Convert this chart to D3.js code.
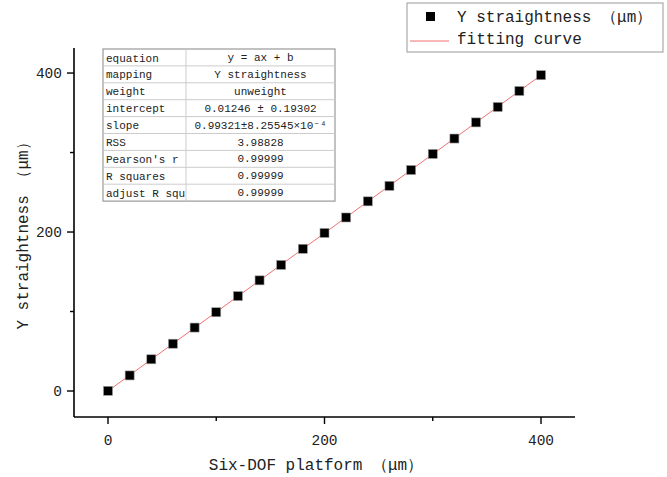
<!DOCTYPE html>
<html><head><meta charset="utf-8">
<script src="https://cdn.jsdelivr.net/npm/d3@7"></script>
<style>body{margin:0;background:#fff;} text{font-family:"Liberation Mono","DejaVu Sans Mono",monospace;}</style>
</head><body>
<svg id="c" width="667" height="477"></svg>
<script>
const xValues = [0,20,40,60,80,100,120,140,160,180,200,220,240,260,280,300,320,340,360,380,400];
const yValues = [0.2,19.6,39.9,59.5,79.8,99.1,119.4,139.2,158.6,178.9,198.8,218.3,238.6,258.1,278.0,298.2,317.6,337.9,357.3,377.4,397.3];
const fitIntercept = 0.01246, fitSlope = 0.99321;
const xTicks = [0,200,400], xMinor = [100,300];
const yTicks = [0,200,400], yMinor = [100,300];
const tableRows = [
 ["equation","y = ax + b"],["mapping","Y straightness"],["weight","unweight"],
 ["intercept","0.01246 ± 0.19302"],["slope","0.99321±8.25545×10⁻⁴"],["RSS","3.98828"],
 ["Pearson's r","0.99999"],["R squares","0.99999"],["adjust R squ","0.99999"]];
const legendItems = ["Y straightness （μm）","fitting curve"];

const svg = d3.select("#c");
const x = d3.scaleLinear().domain([-31.4,431.4]).range([74,575]);
const y = d3.scaleLinear().domain([-32.7,431.5]).range([417,48]);

svg.append("line").attr("x1",x(0)).attr("y1",y(fitIntercept)).attr("x2",x(400)).attr("y2",y(fitIntercept+fitSlope*400))
  .attr("stroke","#f07070").attr("stroke-width",1);
svg.selectAll("rect.pt").data(xValues).join("rect").attr("class","pt")
  .attr("x",(d)=>x(d)-4.5).attr("y",(d,i)=>y(yValues[i])-4.5).attr("width",9).attr("height",9)
  .attr("fill","#000").attr("stroke","#999").attr("stroke-width",0.6);

const ax = svg.append("g").attr("transform","translate(0,417)");
ax.append("line").attr("x1",74).attr("x2",575).attr("stroke","#000").attr("stroke-width",1.6);
ax.selectAll(".t").data(xTicks).join("line").attr("x1",d=>x(d)).attr("x2",d=>x(d)).attr("y1",0).attr("y2",7).attr("stroke","#000").attr("stroke-width",1.4);
ax.selectAll(".m").data(xMinor).join("line").attr("x1",d=>x(d)).attr("x2",d=>x(d)).attr("y1",0).attr("y2",4).attr("stroke","#000").attr("stroke-width",1.4);
ax.selectAll("text").data(xTicks).join("text").attr("x",d=>x(d)).attr("y",28).attr("text-anchor","middle").attr("font-size",14.5).attr("fill","#222").text(d=>d);

const ay = svg.append("g").attr("transform","translate(74,0)");
ay.append("line").attr("y1",48).attr("y2",417).attr("stroke","#000").attr("stroke-width",1.6);
ay.selectAll(".t").data(yTicks).join("line").attr("y1",d=>y(d)).attr("y2",d=>y(d)).attr("x1",0).attr("x2",-7).attr("stroke","#000").attr("stroke-width",1.4);
ay.selectAll(".m").data(yMinor).join("line").attr("y1",d=>y(d)).attr("y2",d=>y(d)).attr("x1",0).attr("x2",-4).attr("stroke","#000").attr("stroke-width",1.4);
ay.selectAll("text").data(yTicks).join("text").attr("x",-12).attr("y",d=>y(d)+5).attr("text-anchor","end").attr("font-size",14.5).attr("fill","#222").text(d=>d);

svg.append("text").attr("x",316).attr("y",470).attr("text-anchor","middle").attr("font-size",16).attr("fill","#222").text("Six-DOF platform （μm）");
svg.append("text").attr("transform","translate(28,232) rotate(-90)").attr("text-anchor","middle").attr("font-size",16).attr("fill","#222").text("Y straightness （μm）");

const tx0=103, tx1=186, tx2=335, ty0=49, rh=16.9;
const tg = svg.append("g");
tg.append("rect").attr("x",tx0).attr("y",ty0).attr("width",tx2-tx0).attr("height",rh*tableRows.length).attr("fill","#fff").attr("stroke","#999").attr("stroke-width",1.2);
tableRows.forEach((r,i)=>{
  if(i>0) tg.append("line").attr("x1",tx0).attr("x2",tx2).attr("y1",ty0+rh*i).attr("y2",ty0+rh*i).attr("stroke","#ccc");
  tg.append("text").attr("x",tx0+3).attr("y",ty0+rh*i+12.5).attr("font-size",11).attr("fill","#222").text(r[0]);
  tg.append("text").attr("x",(tx1+tx2)/2).attr("y",ty0+rh*i+12).attr("text-anchor","middle").attr("font-size",11).attr("fill","#222").text(r[1]);
});
tg.append("line").attr("x1",tx1).attr("x2",tx1).attr("y1",ty0).attr("y2",ty0+rh*tableRows.length).attr("stroke","#ccc");

const lg = svg.append("g");
lg.append("rect").attr("x",407).attr("y",3).attr("width",256).attr("height",49).attr("fill","#fff").attr("stroke","#999").attr("stroke-width",1);
lg.append("rect").attr("x",426).attr("y",12).attr("width",9).attr("height",9).attr("fill","#000");
lg.append("line").attr("x1",410).attr("x2",449).attr("y1",41).attr("y2",41).attr("stroke","#f07070");
lg.selectAll("text").data(legendItems).join("text").attr("x",457).attr("y",(d,i)=>22+i*22).attr("font-size",16).attr("fill","#222").text(d=>d);
</script>
</body></html>
